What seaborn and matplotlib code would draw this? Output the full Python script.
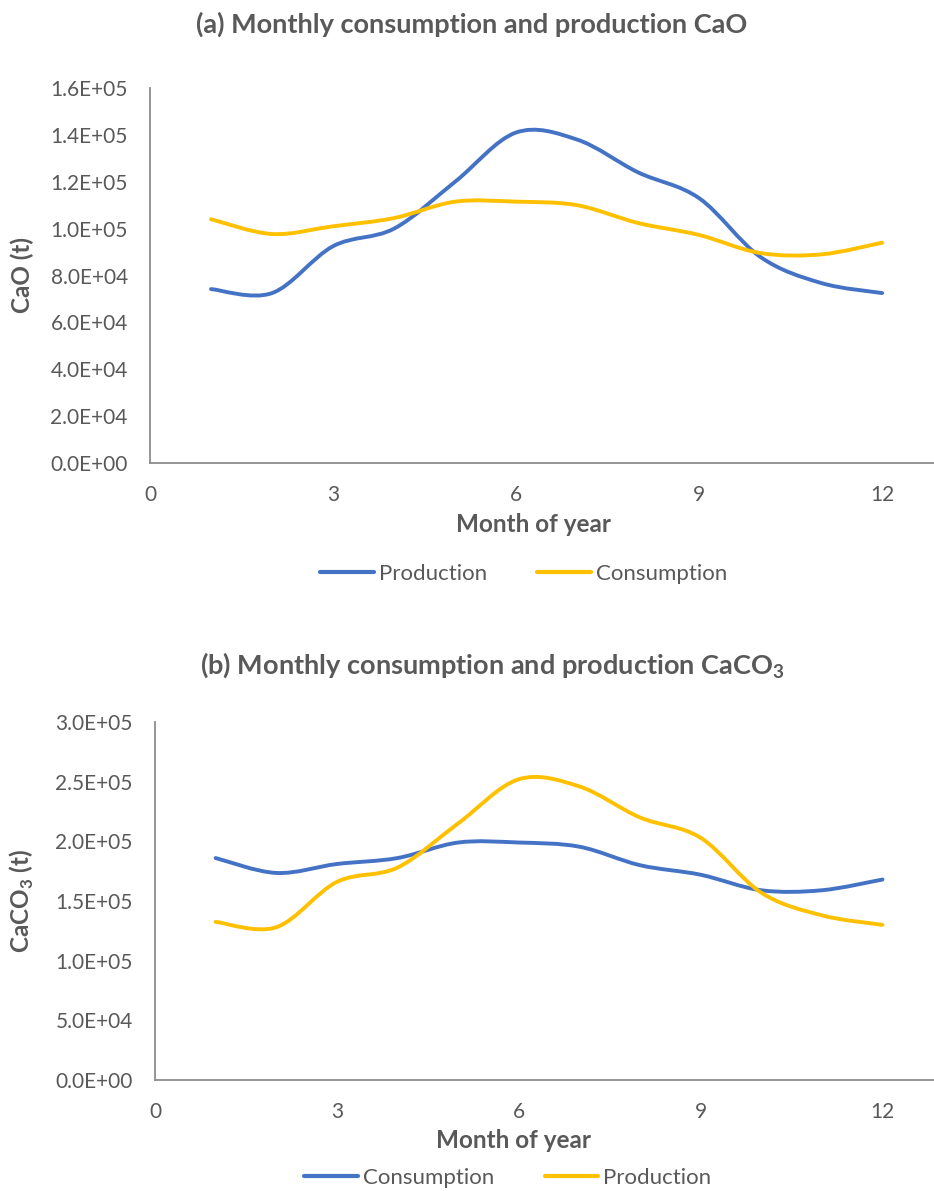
import numpy as np
import pandas as pd
import matplotlib
matplotlib.use("Agg")
import matplotlib.pyplot as plt
import seaborn as sns
from matplotlib.path import Path
from matplotlib.patches import PathPatch
from matplotlib.lines import Line2D
from matplotlib.ticker import FuncFormatter

# data
months = [1, 2, 3, 4, 5, 6, 7, 8, 9, 10, 11, 12]
cao_production = [74200, 72500, 92500, 100000, 120000, 141000, 138000, 124000, 113000, 88000, 76800, 72500]
cao_consumption = [104000, 97700, 101000, 104500, 111500, 111500, 110000, 102400, 97300, 89600, 89000, 94000]
caco3_consumption = [186000, 173500, 181000, 186000, 199000, 199000, 195500, 180000, 172000, 159000, 159000, 168000]
caco3_production = [132500, 128000, 166000, 178000, 215000, 252000, 246000, 220000, 203000, 157000, 138000, 130000]

blue = "#4472C4"
yellow = "#FFC000"
text_color = "#595959"
axis_color = "#8C8C8C"

sns.set_theme(style="white")
plt.rcParams["font.family"] = ["Lato", "DejaVu Sans"]
plt.rcParams["mathtext.fontset"] = "custom"
plt.rcParams["mathtext.rm"] = "Lato"
plt.rcParams["mathtext.bf"] = "Lato:bold"
plt.rcParams["text.color"] = text_color


def smooth_lines(ax):
    # Excel style smoothed line: bezier segments through every data point
    for line in list(ax.get_lines()):
        x, y = line.get_xdata().astype(float), line.get_ydata().astype(float)
        pts = np.column_stack([x, y])
        n = len(pts)
        verts = [pts[0]]
        codes = [Path.MOVETO]
        for i in range(n - 1):
            p0 = pts[max(i - 1, 0)]
            p1 = pts[i]
            p2 = pts[i + 1]
            p3 = pts[min(i + 2, n - 1)]
            verts += [p1 + (p2 - p0) / 6, p2 - (p3 - p1) / 6, p2]
            codes += [Path.CURVE4] * 3
        ax.add_patch(PathPatch(Path(verts, codes), fill=False, edgecolor=line.get_color(),
                               lw=line.get_linewidth(), capstyle="round", joinstyle="round"))
        line.remove()


def draw_panel(ax, names, series, colors, ylim, yticks, title, ylabel, legend_y, title_xy, xlabel_xy):
    df = pd.DataFrame({
        "month": months * 2,
        "value": series[0] + series[1],
        "series": [names[0]] * 12 + [names[1]] * 12,
    })
    sns.lineplot(data=df, x="month", y="value", hue="series", palette=colors,
                 linewidth=2.8, legend=False, ax=ax)
    smooth_lines(ax)

    ax.set_xlim(0, 12.85)
    ax.set_ylim(*ylim)
    ax.set_xticks([0, 3, 6, 9, 12])
    ax.set_yticks(yticks)
    ax.yaxis.set_major_formatter(FuncFormatter(lambda v, p: f"{v:.1E}"))
    ax.tick_params(axis="both", length=0, labelsize=15, labelcolor=text_color)
    ax.tick_params(axis="x", pad=16)
    ax.tick_params(axis="y", pad=16)
    ax.set_xlabel("")
    ax.set_ylabel("")
    for side in ["top", "right"]:
        ax.spines[side].set_visible(False)
    for side in ["left", "bottom"]:
        ax.spines[side].set_color(axis_color)
        ax.spines[side].set_linewidth(1.3)

    fig = ax.figure
    fig.text(title_xy[0], title_xy[1], title, ha="center", va="center",
             fontsize=19.5, fontweight="bold", color=text_color)
    fig.text(xlabel_xy[0], xlabel_xy[1], "Month of year", ha="center", va="center",
             fontsize=17.5, fontweight="bold", color=text_color)
    pos = ax.get_position()
    fig.text(22 / 934, pos.y0 + pos.height / 2, ylabel, rotation=90, ha="center", va="center",
             fontsize=17.5, fontweight="bold", color=text_color)

    handles = [Line2D([], [], color=c, lw=3) for c in colors]
    fig.legend(handles, names, loc="center", bbox_to_anchor=(legend_y[0], legend_y[1]),
               ncol=2, frameon=False, fontsize=16, handlelength=2.4, handletextpad=0.25,
               columnspacing=2.25, labelcolor=text_color)


fig = plt.figure(figsize=(9.34, 11.91), dpi=100)
ax1 = fig.add_axes([150 / 934, 1 - 463 / 1191, 1 - 150 / 934, (463 - 88) / 1191])
ax2 = fig.add_axes([155 / 934, 1 - 1080 / 1191, 1 - 155 / 934, (1080 - 722) / 1191])

draw_panel(ax1, ["Production", "Consumption"], [cao_production, cao_consumption], [blue, yellow],
           (0, 160000), np.arange(0, 160001, 20000),
           "(a) Monthly consumption and production CaO", "CaO (t)",
           (524 / 934, 1 - 574 / 1191), (472 / 934, 1 - 24 / 1191), (533 / 934, 1 - 525 / 1191))

draw_panel(ax2, ["Consumption", "Production"], [caco3_consumption, caco3_production], [blue, yellow],
           (0, 300000), np.arange(0, 300001, 50000),
           r"(b) Monthly consumption and production CaCO$_\mathbf{3}$", r"CaCO$_\mathbf{3}$ (t)",
           (508 / 934, 1 - 1178 / 1191), (492 / 934, 1 - 665 / 1191), (513 / 934, 1 - 1140 / 1191))

fig.savefig("out.png", dpi=100)
